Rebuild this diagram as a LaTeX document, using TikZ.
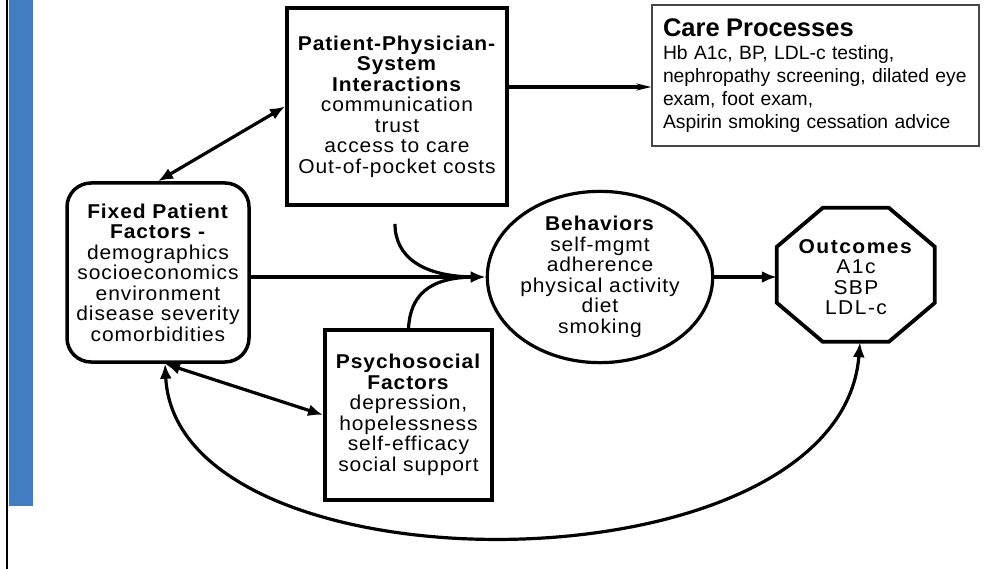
\documentclass[tikz,border=0pt]{standalone}
\usepackage{fontspec}
\setmainfont{Liberation Sans}
\newfontfamily\spread[FakeStretch=1.05, LetterSpace=4.5]{Liberation Sans}
\newfontfamily\spreadwide[FakeStretch=1.05, LetterSpace=7.5]{Liberation Sans}
\usetikzlibrary{arrows.meta,calc,shapes.geometric}
\definecolor{sidebar}{RGB}{66,124,193}
\definecolor{carerule}{RGB}{70,70,70}

\tikzset{
  boxtext/.style={align=center, inner sep=0pt, font=\spread\fontsize{20pt}{20.5pt}\selectfont},
  factorbox/.style={boxtext, draw, line width=3.8pt},
  link/.style={line width=3.2pt, -{Latex[length=15pt,width=12pt]}},
  twoway/.style={line width=3.2pt, {Latex[length=15pt,width=12pt]}-{Latex[length=15pt,width=12pt]}},
  feed/.style={line width=3.2pt, shorten >=10pt},
}

\begin{document}
\begin{tikzpicture}[x=1pt, y=-1pt]
  \useasboundingbox (0,0) rectangle (1003,569);

  % side bar and rule
  \fill[sidebar] (9,0) rectangle (33,506);
  \draw[line width=1.2pt] (7,0) -- (7,569);

  % factor boxes
  \node[factorbox, minimum width=220pt, minimum height=197pt] (pps) at (397,106.5)
    {\textbf{Patient-Physician-}\\\textbf{System}\\\textbf{Interactions}\\communication\\trust\\access to care\\Out-of-pocket costs};

  \node[factorbox, line width=3.5pt, rounded corners=24pt, minimum width=182pt, minimum height=179pt] (fix) at (158,272.5)
    {\textbf{Fixed Patient}\\\textbf{Factors -}\\demographics\\socioeconomics\\environment\\disease severity\\comorbidities};

  \node[factorbox, minimum width=167pt, minimum height=170pt] (psy) at (408.5,415)
    {\textbf{Psychosocial}\\\textbf{Factors}\\depression,\\hopelessness\\self-efficacy\\social support};

  \node[boxtext, draw, ellipse, line width=3.2pt, minimum width=191pt, minimum height=148pt] (beh) at (600,277)
    {\textbf{Behaviors}\\self-mgmt\\adherence\\physical activity\\diet\\smoking};

  % outcomes octagon
  \node[boxtext, font=\spreadwide\fontsize{20pt}{20.5pt}\selectfont, minimum width=158pt, minimum height=134pt] (oct) at (856,277)
    {\textbf{Outcomes}\\A1c\\SBP\\LDL-c};
  \draw[line width=3.8pt] ([yshift=2pt]oct.north west) ++(0,39) -- ++(46,-39) -- ++(66,0) -- ++(46,39)
    -- ++(0,56) -- ++(-46,39) -- ++(-66,0) -- ++(-46,-39) -- cycle;
  \coordinate (octin) at ([xshift=4pt,yshift=2pt]oct.south);

  % care processes
  \node[draw=carerule, line width=1.2pt, minimum width=327pt, minimum height=141pt,
        text width=305pt, align=left, inner sep=0pt,
        font=\fontsize{19.3pt}{23pt}\selectfont] (care) at (815.5,75.5)
    {{\fontsize{25.5pt}{23pt}\selectfont\bfseries Care Processes}\\
     Hb A1c, BP, LDL-c testing,\\
     nephropathy screening, dilated eye\\
     exam, foot exam,\\
     Aspirin smoking cessation advice};

  % connectors
  \coordinate (ppsout) at ([yshift=19.5pt]pps.east);
  \draw[line width=3.2pt, -{Stealth[length=15pt,width=7pt]}] (ppsout) -- (ppsout -| care.west);

  \draw[twoway] (pps.west) -- (fix.north);
  \coordinate (fixbot) at ([xshift=7pt]fix.south);
  \draw[twoway] (fixbot) -- (psy.west);

  \draw[link] (fix.east |- beh.west) -- (beh.west);
  \draw[feed] ([xshift=-2pt]pps.south) ++(0,17) .. controls +(0,33) and +(-63,0) .. (beh.west);
  \draw[feed] (psy.north) .. controls +(2,-32) and +(-58,0) .. (beh.west);

  \draw[link] (beh.east) -- (beh.east -| oct.west);

  \draw[twoway] (fixbot) .. controls +(12,234) and +(-20,254) .. (octin);
\end{tikzpicture}
\end{document}
